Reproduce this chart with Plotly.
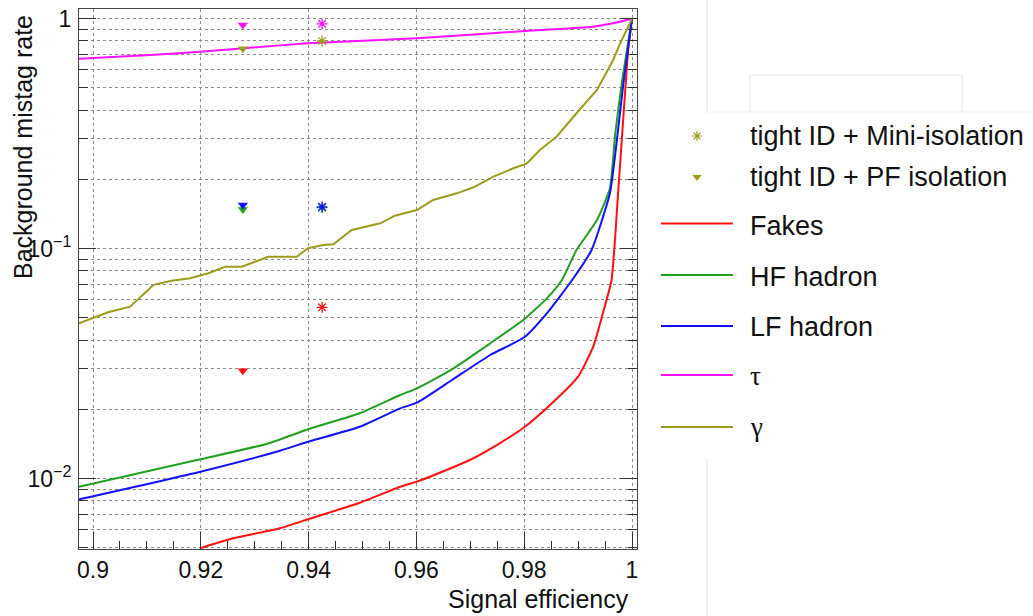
import plotly.graph_objects as go

W, H = 1033, 616

# ---------------- data ----------------
fakes_x = [0.9198, 0.9260, 0.9347, 0.9399, 0.9495, 0.9570, 0.9601, 0.9625, 0.9699, 0.9749,
           0.9800, 0.9848, 0.9900, 0.9928, 0.9946, 0.9962, 0.9975, 0.9984, 0.9993, 1.0]
fakes_y = [0.00498, 0.00551, 0.00609, 0.00666, 0.00786, 0.00923, 0.00971, 0.0102, 0.01206, 0.01401,
           0.01673, 0.02091, 0.02777, 0.0375, 0.0524, 0.0731, 0.186, 0.375, 0.73, 1.0]

hf_x = [0.8974, 0.9199, 0.9322, 0.9399, 0.9495, 0.9570, 0.9601, 0.9666, 0.9737, 0.9800,
        0.9842, 0.9870, 0.9897, 0.9935, 0.9959, 0.9969, 0.9981, 1.0]
hf_y = [0.00923, 0.01215, 0.01416, 0.0164, 0.01925, 0.02311, 0.02472, 0.02989, 0.03879, 0.04932,
        0.06085, 0.0731, 0.0987, 0.1333, 0.1831, 0.3175, 0.5237, 1.0]

lf_x = [0.8974, 0.9199, 0.9347, 0.9399, 0.9495, 0.9570, 0.9601, 0.9666, 0.9737, 0.9800,
        0.9842, 0.9889, 0.9925, 0.9959, 0.9972, 0.9984, 1.0]
lf_y = [0.00813, 0.01073, 0.01323, 0.01448, 0.01683, 0.02023, 0.0214, 0.02686, 0.0345, 0.04119,
        0.05237, 0.0731, 0.0987, 0.1741, 0.297, 0.5237, 1.0]

tau_x = [0.8974, 0.9106, 0.9199, 0.9279, 0.9399, 0.9601, 0.9802, 0.9928, 0.9965, 1.0]
tau_y = [0.670, 0.695, 0.719, 0.744, 0.782, 0.822, 0.884, 0.923, 0.955, 1.0]

gamma_x = [0.8974, 0.9028, 0.9069, 0.9112, 0.9146, 0.9180, 0.9214, 0.9245, 0.9276, 0.9325,
           0.9378, 0.9399, 0.9427, 0.9446, 0.9480, 0.9533, 0.9560, 0.9601, 0.9631, 0.9675,
           0.9706, 0.9743, 0.9780, 0.9805, 0.9829, 0.9860, 0.9897, 0.9935, 0.9965, 0.9978, 1.0]
gamma_y = [0.0474, 0.0529, 0.0560, 0.0696, 0.0726, 0.0744, 0.0782, 0.0835, 0.0835, 0.0923,
           0.0923, 0.1004, 0.1038, 0.1045, 0.1206, 0.1289, 0.1391, 0.1473, 0.1628, 0.1741,
           0.1849, 0.2056, 0.2237, 0.2350, 0.2686, 0.3069, 0.3880, 0.4898, 0.6613, 0.7817, 1.0]

# working points: tight ID + PF isolation (triangles) and tight ID + Mini-isolation (asterisks)
pf_eff = 0.9278
pf_names = ["HF hadron", "LF hadron", "Fakes", "γ", "τ"]
pf_vals = [0.148, 0.155, 0.0295, 0.74, 0.94]
mini_eff = 0.9425
mini_names = ["HF hadron", "LF hadron", "Fakes", "γ", "τ"]
mini_vals = [0.151, 0.152, 0.0556, 0.80, 0.95]

x_tickvals = [0.9, 0.92, 0.94, 0.96, 0.98, 1.0]
x_ticktext = ["0.9", "0.92", "0.94", "0.96", "0.98", "1"]
y_tickvals = [0.01, 0.1, 1]
y_ticktext = ["10<sup>−2</sup>", "10<sup>−1</sup>", "1"]

colors = {"Fakes": "#ff1010", "HF hadron": "#1fa01f", "LF hadron": "#1010ff",
          "τ": "#ff10ff", "γ": "#9c9c1c"}
# (name, x, y, smooth?)
curves = [("Fakes", fakes_x, fakes_y, True), ("HF hadron", hf_x, hf_y, True),
          ("LF hadron", lf_x, lf_y, True), ("τ", tau_x, tau_y, True),
          ("γ", gamma_x, gamma_y, False)]

# ---------------- geometry (pixels) ----------------
L, R, T, B = 79, 637, 9, 549
FONT = "Liberation Sans, Arial, Helvetica, sans-serif"
SERIF = "Liberation Serif, Times New Roman, serif"

fig = go.Figure()

for name, xs, ys, smooth in curves:
    line = dict(color=colors[name], width=2)
    if smooth:
        line.update(shape="spline", smoothing=0.5)
    fig.add_trace(go.Scatter(x=xs, y=ys, mode="lines", name=name, line=line,
                             showlegend=False, xaxis="x", yaxis="y"))

for name, v in zip(pf_names, pf_vals):
    fig.add_trace(go.Scatter(x=[pf_eff], y=[v], mode="markers", showlegend=False,
                             marker=dict(symbol="triangle-down", size=9, color=colors[name],
                                         line=dict(width=0)),
                             xaxis="x", yaxis="y"))
for name, v in zip(mini_names, mini_vals):
    fig.add_trace(go.Scatter(x=[mini_eff], y=[v], mode="markers", showlegend=False,
                             marker=dict(symbol="asterisk-open", size=9, color=colors[name],
                                         line=dict(width=1.3, color=colors[name])),
                             xaxis="x", yaxis="y"))

# ---------------- manual legend on a pixel overlay ----------------
leg_line_x = [661, 733]
leg_lines = [("Fakes", 223.5), ("HF hadron", 275), ("LF hadron", 326), ("τ", 375), ("γ", 427)]
for name, yl in leg_lines:
    fig.add_trace(go.Scatter(x=leg_line_x, y=[yl, yl], mode="lines", showlegend=False,
                             line=dict(color=colors[name], width=2),
                             xaxis="x2", yaxis="y2"))
fig.add_trace(go.Scatter(x=[697], y=[136], mode="markers", showlegend=False,
                         marker=dict(symbol="asterisk-open", size=8, color=colors["γ"],
                                     line=dict(width=1.2, color=colors["γ"])),
                         xaxis="x2", yaxis="y2"))
fig.add_trace(go.Scatter(x=[697], y=[177], mode="markers", showlegend=False,
                         marker=dict(symbol="triangle-down", size=8, color=colors["γ"]),
                         xaxis="x2", yaxis="y2"))

annotations = []
leg_texts = [("tight ID + Mini-isolation", 136, FONT), ("tight ID + PF isolation", 177, FONT),
             ("Fakes", 226, FONT), ("HF hadron", 277, FONT), ("LF hadron", 327, FONT),
             ("τ", 376, SERIF), ("γ", 427, SERIF)]
for txt, yt, fam in leg_texts:
    annotations.append(dict(x=748, y=yt, xref="x2", yref="y2", text=txt, showarrow=False,
                            xanchor="left", yanchor="middle",
                            font=dict(family=fam, size=27, color="#111")))

annotations.append(dict(x=23, y=147, xref="x2", yref="y2", text="Background mistag rate",
                        textangle=-90, showarrow=False, xanchor="center", yanchor="middle",
                        font=dict(family=FONT, size=25, color="#111")))
annotations.append(dict(x=631, y=599, xref="x2", yref="y2", text="Signal efficiency",
                        showarrow=False, xanchor="right", yanchor="middle",
                        font=dict(family=FONT, size=25, color="#111")))

# faint artefacts of the original picture
faint = "#e4e4e4"
shapes = [
    dict(type="line", xref="x2", yref="y2", x0=707, x1=707, y0=0, y1=112, line=dict(color=faint, width=1)),
    dict(type="line", xref="x2", yref="y2", x0=707, x1=707, y0=458, y1=616, line=dict(color=faint, width=1)),
    dict(type="line", xref="x2", yref="y2", x0=750, x1=962, y0=75, y1=75, line=dict(color=faint, width=1)),
    dict(type="line", xref="x2", yref="y2", x0=750, x1=750, y0=75, y1=112, line=dict(color=faint, width=1)),
    dict(type="line", xref="x2", yref="y2", x0=962, x1=962, y0=75, y1=112, line=dict(color=faint, width=1)),
    dict(type="line", xref="x2", yref="y2", x0=707, x1=1033, y0=112, y1=112, line=dict(color="#f0f0f0", width=1)),
]

y_minor = [k * 10.0 ** e for e in range(-3, 1) for k in range(2, 10)]

xlo = 0.9 - (93 - L) / 5390.0
xhi = xlo + (R - L) / 5390.0
ytop = (18.7 - T) / 230.0
ybot = -(B - 18.7) / 230.0

fig.update_layout(
    width=W, height=H, autosize=False,
    margin=dict(l=0, r=0, t=0, b=0, pad=0),
    paper_bgcolor="white", plot_bgcolor="rgba(0,0,0,0)",
    showlegend=False,
    xaxis=dict(domain=[L / W, R / W], range=[xlo, xhi], anchor="y",
               tickmode="array", tickvals=x_tickvals, ticktext=x_ticktext,
               ticks="inside", ticklen=17, tickwidth=1, tickcolor="#333",
               showline=True, linecolor="#444", linewidth=1, mirror=True,
               showgrid=True, gridcolor="#8a8a8a", griddash="dot", gridwidth=1,
               zeroline=False, automargin=False, ticklabelstandoff=0,
               tickfont=dict(family=FONT, size=23, color="#111"),
               minor=dict(tickmode="linear", tick0=0.9, dtick=0.005, ticks="inside",
                          ticklen=8, tickcolor="#333", showgrid=False)),
    yaxis=dict(domain=[1 - B / H, 1 - T / H], type="log", range=[ybot, ytop], anchor="x",
               tickmode="array", tickvals=y_tickvals, ticktext=y_ticktext,
               ticks="inside", ticklen=17, tickwidth=1, tickcolor="#333",
               showline=True, linecolor="#444", linewidth=1, mirror="ticks",
               showgrid=True, gridcolor="#8a8a8a", griddash="dot", gridwidth=1,
               zeroline=False, automargin=False, ticklabelstandoff=2,
               tickfont=dict(family=FONT, size=23, color="#111"),
               minor=dict(tickmode="array", tickvals=y_minor, ticks="inside", ticklen=9,
                          tickcolor="#333", showgrid=True, gridcolor="#8a8a8a",
                          griddash="dot", gridwidth=1)),
    xaxis2=dict(domain=[0, 1], range=[0, W], anchor="y2", visible=False, fixedrange=True),
    yaxis2=dict(domain=[0, 1], range=[H, 0], anchor="x2", visible=False, fixedrange=True),
    annotations=annotations,
    shapes=shapes,
)

fig.write_html("out.html")
